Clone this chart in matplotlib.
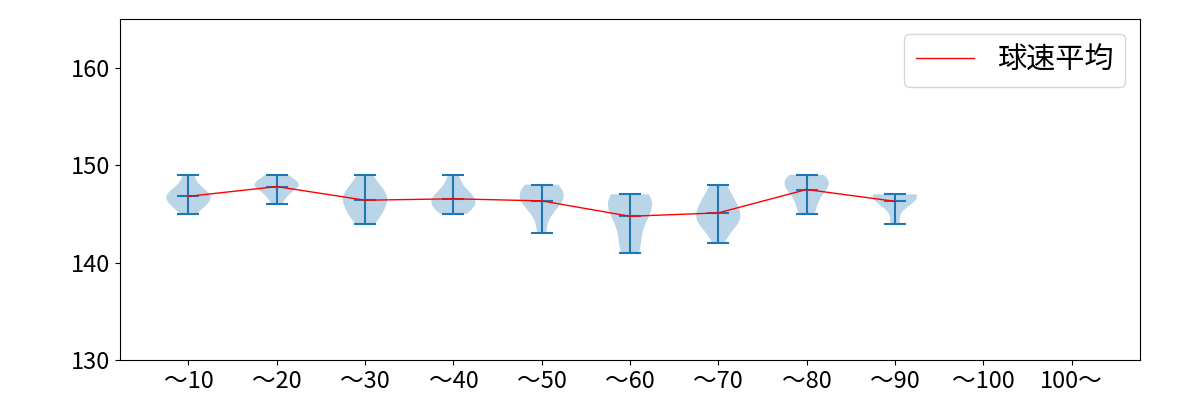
import matplotlib
matplotlib.use("Agg")
import matplotlib.pyplot as plt

plt.rcParams['font.family'] = ['Noto Sans CJK JP', 'DejaVu Sans']

labels = ['〜10', '〜20', '〜30', '〜40', '〜50', '〜60', '〜70', '〜80', '〜90', '〜100', '100〜']

# speeds per pitch-count bin (km/h)
speeds_10 = [145, 146, 146, 146, 147, 147, 147, 147, 148, 149]
speeds_20 = [146, 147, 147, 148, 148, 148, 148, 148, 149, 149]
speeds_30 = [144, 145, 145, 146, 146, 147, 147, 147, 148, 149]
speeds_40 = [145, 145, 146, 146, 146, 146, 147, 147, 147, 148, 149]
speeds_50 = [143, 145, 146, 146, 147, 147, 147, 148, 148]
speeds_60 = [141, 142, 144, 145, 146, 146, 147, 147]
speeds_70 = [142, 144, 144, 144, 145, 145, 146, 146, 147, 148]
speeds_80 = [145, 146, 147, 148, 148, 148, 149, 149]
speeds_90 = [144, 146, 146, 147, 147, 147, 147]

data = [speeds_10, speeds_20, speeds_30, speeds_40, speeds_50,
        speeds_60, speeds_70, speeds_80, speeds_90]
positions = list(range(1, len(data) + 1))
means = [sum(d) / len(d) for d in data]

fig = plt.figure(figsize=(12, 4), dpi=100)
ax = fig.add_axes([0.1, 0.1, 0.85, 0.8525])

ax.violinplot(data, positions=positions, showmeans=True)
ax.plot(positions, means, color='red', linewidth=1, label='球速平均')

ax.set_xticks(range(1, len(labels) + 1))
ax.set_xticklabels(labels, fontsize=17)
ax.set_xlim(0.225, 11.775)
ax.set_ylim(130, 165)
ax.set_yticks([130, 140, 150, 160])
ax.tick_params(axis='y', labelsize=17)
ax.legend(loc='upper right', fontsize=21)

fig.savefig('out.png')
